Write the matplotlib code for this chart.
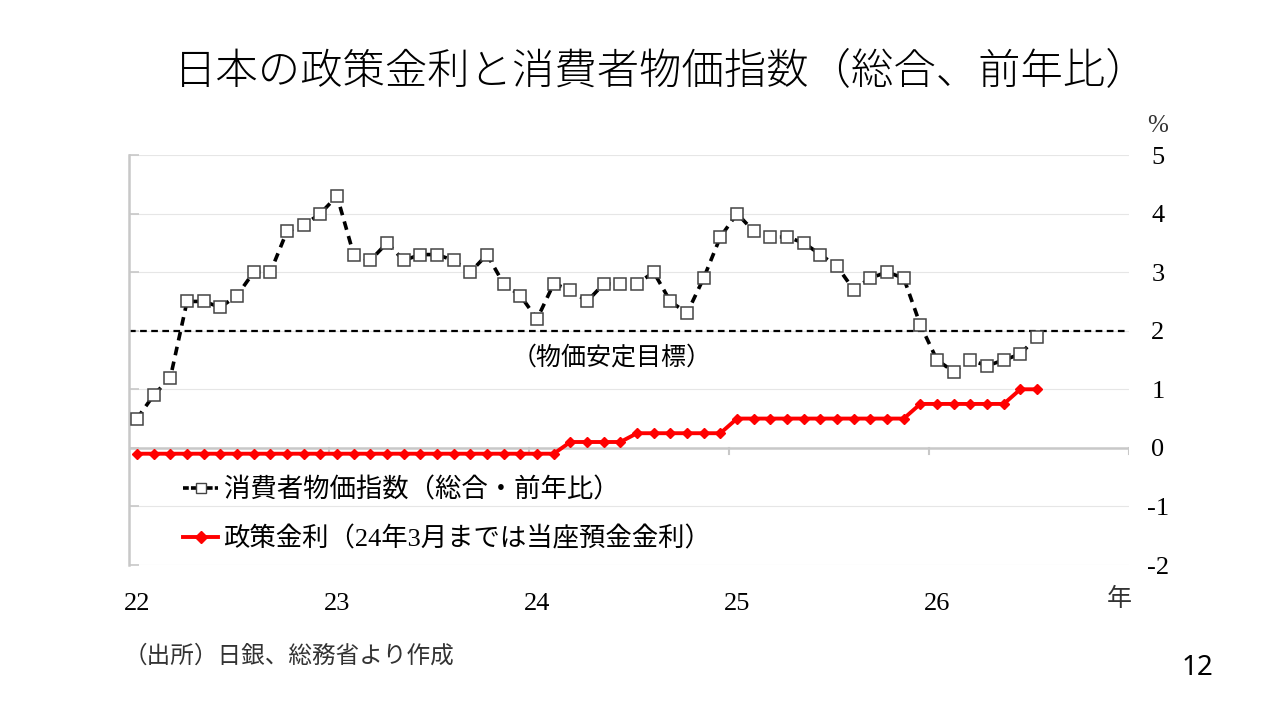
import numpy as np
import matplotlib
matplotlib.use("Agg")
import matplotlib.pyplot as plt
from matplotlib.lines import Line2D

# データ（2022年1月〜2026年7月、月次）
years = ["22", "23", "24", "25", "26"]
months_per_year = 12

cpi = [
    0.5, 0.9, 1.2, 2.5, 2.5, 2.4, 2.6, 3.0, 3.0, 3.7, 3.8, 4.0,
    4.3, 3.3, 3.2, 3.5, 3.2, 3.3, 3.3, 3.2, 3.0, 3.3, 2.8, 2.6,
    2.2, 2.8, 2.7, 2.5, 2.8, 2.8, 2.8, 3.0, 2.5, 2.3, 2.9, 3.6,
    4.0, 3.7, 3.6, 3.6, 3.5, 3.3, 3.1, 2.7, 2.9, 3.0, 2.9, 2.1,
    1.5, 1.3, 1.5, 1.4, 1.5, 1.6, 1.9,
]

policy_rate = [
    -0.1, -0.1, -0.1, -0.1, -0.1, -0.1, -0.1, -0.1, -0.1, -0.1, -0.1, -0.1,
    -0.1, -0.1, -0.1, -0.1, -0.1, -0.1, -0.1, -0.1, -0.1, -0.1, -0.1, -0.1,
    -0.1, -0.1, 0.1, 0.1, 0.1, 0.1, 0.25, 0.25, 0.25, 0.25, 0.25, 0.25,
    0.5, 0.5, 0.5, 0.5, 0.5, 0.5, 0.5, 0.5, 0.5, 0.5, 0.5, 0.75,
    0.75, 0.75, 0.75, 0.75, 0.75, 1.0, 1.0,
]

target = 2.0
y_ticks = [5, 4, 3, 2, 1, 0, -1, -2]

title = "日本の政策金利と消費者物価指数（総合、前年比）"
cpi_label = "消費者物価指数（総合・前年比）"
rate_label = "政策金利（24年3月までは当座預金金利）"
target_label = "（物価安定目標）"
source_note = "（出所）日銀、総務省より作成"
page_no = "12"

JP = ["Noto Sans CJK JP", "DejaVu Sans"]
SERIF_JP = ["Liberation Serif", "Noto Sans CJK JP"]
plt.rcParams["font.family"] = JP

fig = plt.figure(figsize=(12.8, 7.23), dpi=100)
ax = fig.add_axes([128.7 / 1280, 1 - 565 / 723, 1000 / 1280, 410 / 723])

n_cat = len(years) * months_per_year
x = np.arange(len(cpi))
ax.set_xlim(-0.5, n_cat - 0.5)
ax.set_ylim(-2, 5)

# グリッド
for yv in y_ticks:
    if yv != 0:
        ax.axhline(yv, color="#e6e6e6", lw=0.8, zorder=0)
ax.axhline(0, color="#c8c8c8", lw=1.8, zorder=1)
# ゼロ線上の年区切り目盛り
for b in np.arange(1, len(years) + 1) * months_per_year - 0.5:
    ax.plot([b, b], [0, -0.11], color="#c8c8c8", lw=1.5, zorder=1)

# 物価安定目標
ax.axhline(target, color="black", lw=1.6, ls=(0, (3, 2)), zorder=2)
ax.text(28.5, 1.55, target_label, ha="center", va="center", fontsize=18,
        family=JP)

ax.plot(x, policy_rate, color="#ff0000", lw=2.8, marker="D", ms=5.5,
        mfc="#ff0000", mec="#ff0000", zorder=3)
ax.plot(x, cpi, color="black", lw=2.6, ls=(0, (2.4, 1.8)), marker="s",
        ms=8.5, mfc="white", mec="#444444", mew=1.1, zorder=4)

# 軸
for s in ["top", "right", "bottom"]:
    ax.spines[s].set_visible(False)
ax.spines["left"].set_color("#c8c8c8")
ax.spines["left"].set_linewidth(1.8)

ax.set_yticks(y_ticks)
ax.set_yticklabels([str(v) for v in y_ticks])
ax.tick_params(axis="y", left=True, right=False, labelleft=False,
               labelright=True, direction="in", length=7, width=1.2,
               color="#c8c8c8", pad=21, labelsize=19)
for lab in ax.get_yticklabels():
    lab.set_family("Liberation Serif")
    lab.set_horizontalalignment("center")

ax.set_xticks(np.arange(len(years)) * months_per_year)
ax.set_xticklabels(years)
ax.tick_params(axis="x", bottom=False, pad=17, labelsize=19)
for lab in ax.get_xticklabels():
    lab.set_family("Liberation Serif")

ax.text(0.991, -0.083, "年", transform=ax.transAxes, ha="center", va="center",
        fontsize=18, family=JP, color="#333333")
ax.text(1.0285, 1.07, "%", transform=ax.transAxes, ha="center", va="center",
        fontsize=18, family="Liberation Serif", color="#333333")

# 凡例
handles = [
    Line2D([], [], color="black", lw=2.6, ls=(0, (1.6, 0.6)), marker="s",
           ms=7, mfc="white", mec="#444444"),
    Line2D([], [], color="#ff0000", lw=2.8, marker="D", ms=6,
           mfc="#ff0000", mec="#ff0000"),
]
leg = ax.legend(handles, [cpi_label, rate_label], loc="center left",
                bbox_to_anchor=(0.054, 0.123), frameon=False,
                prop={"family": SERIF_JP, "size": 19},
                handlelength=1.35, handletextpad=0.2, labelspacing=0.9,
                borderpad=0, borderaxespad=0)

fig.text(661 / 1280, 1 - 72 / 723, title, ha="center", va="center",
         fontsize=30.5, family=JP, fontweight="light")
fig.text(124 / 1280, 1 - 656 / 723, source_note, ha="left", va="center",
         fontsize=17, family=JP, color="#333333")
fig.text(1197 / 1280, 1 - 668 / 723, page_no, ha="center", va="center",
         fontsize=20, family=["Noto Sans", "DejaVu Sans"])

fig.savefig("out.png", dpi=100)
